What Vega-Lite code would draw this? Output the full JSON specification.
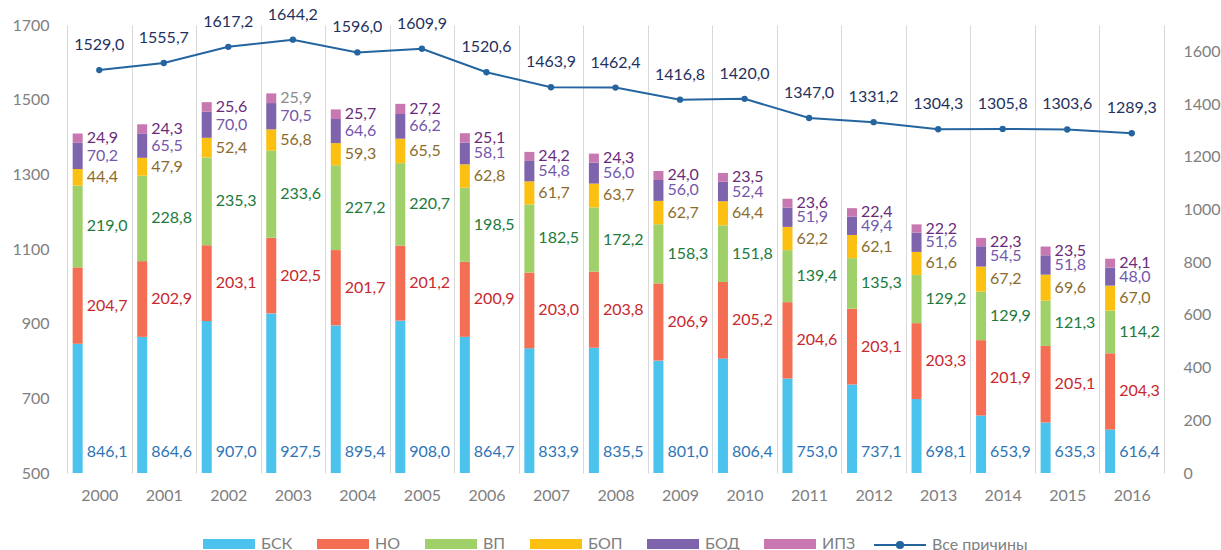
{
  "$schema": "https://vega.github.io/schema/vega-lite/v6.json",
  "width": 1097,
  "height": 448,
  "autosize": {"type": "none"},
  "padding": {"left": 67, "top": 25, "right": 57, "bottom": 77},
  "config": {
    "view": {"stroke": null},
    "font": "Lato",
    "locale": {"number": {"decimal": ",", "thousands": "\u00a0", "grouping": [3], "currency": ["", ""]}},
    "axis": {"labelFont": "Lato", "labelFontSize": 16, "labelColor": "#808080", "ticks": false, "domain": false, "title": null},
    "legend": {"labelFont": "Lato", "labelFontSize": 16, "labelColor": "#808080"}
  },
  "datasets": {
    "bars": [
      {"year": "2000", "cause": "БСК", "value": 846.1}, {"year": "2000", "cause": "НО", "value": 204.7}, {"year": "2000", "cause": "ВП", "value": 219.0}, {"year": "2000", "cause": "БОП", "value": 44.4}, {"year": "2000", "cause": "БОД", "value": 70.2}, {"year": "2000", "cause": "ИПЗ", "value": 24.9},
      {"year": "2001", "cause": "БСК", "value": 864.6}, {"year": "2001", "cause": "НО", "value": 202.9}, {"year": "2001", "cause": "ВП", "value": 228.8}, {"year": "2001", "cause": "БОП", "value": 47.9}, {"year": "2001", "cause": "БОД", "value": 65.5}, {"year": "2001", "cause": "ИПЗ", "value": 24.3},
      {"year": "2002", "cause": "БСК", "value": 907.0}, {"year": "2002", "cause": "НО", "value": 203.1}, {"year": "2002", "cause": "ВП", "value": 235.3}, {"year": "2002", "cause": "БОП", "value": 52.4}, {"year": "2002", "cause": "БОД", "value": 70.0}, {"year": "2002", "cause": "ИПЗ", "value": 25.6},
      {"year": "2003", "cause": "БСК", "value": 927.5}, {"year": "2003", "cause": "НО", "value": 202.5}, {"year": "2003", "cause": "ВП", "value": 233.6}, {"year": "2003", "cause": "БОП", "value": 56.8}, {"year": "2003", "cause": "БОД", "value": 70.5}, {"year": "2003", "cause": "ИПЗ", "value": 25.9},
      {"year": "2004", "cause": "БСК", "value": 895.4}, {"year": "2004", "cause": "НО", "value": 201.7}, {"year": "2004", "cause": "ВП", "value": 227.2}, {"year": "2004", "cause": "БОП", "value": 59.3}, {"year": "2004", "cause": "БОД", "value": 64.6}, {"year": "2004", "cause": "ИПЗ", "value": 25.7},
      {"year": "2005", "cause": "БСК", "value": 908.0}, {"year": "2005", "cause": "НО", "value": 201.2}, {"year": "2005", "cause": "ВП", "value": 220.7}, {"year": "2005", "cause": "БОП", "value": 65.5}, {"year": "2005", "cause": "БОД", "value": 66.2}, {"year": "2005", "cause": "ИПЗ", "value": 27.2},
      {"year": "2006", "cause": "БСК", "value": 864.7}, {"year": "2006", "cause": "НО", "value": 200.9}, {"year": "2006", "cause": "ВП", "value": 198.5}, {"year": "2006", "cause": "БОП", "value": 62.8}, {"year": "2006", "cause": "БОД", "value": 58.1}, {"year": "2006", "cause": "ИПЗ", "value": 25.1},
      {"year": "2007", "cause": "БСК", "value": 833.9}, {"year": "2007", "cause": "НО", "value": 203.0}, {"year": "2007", "cause": "ВП", "value": 182.5}, {"year": "2007", "cause": "БОП", "value": 61.7}, {"year": "2007", "cause": "БОД", "value": 54.8}, {"year": "2007", "cause": "ИПЗ", "value": 24.2},
      {"year": "2008", "cause": "БСК", "value": 835.5}, {"year": "2008", "cause": "НО", "value": 203.8}, {"year": "2008", "cause": "ВП", "value": 172.2}, {"year": "2008", "cause": "БОП", "value": 63.7}, {"year": "2008", "cause": "БОД", "value": 56.0}, {"year": "2008", "cause": "ИПЗ", "value": 24.3},
      {"year": "2009", "cause": "БСК", "value": 801.0}, {"year": "2009", "cause": "НО", "value": 206.9}, {"year": "2009", "cause": "ВП", "value": 158.3}, {"year": "2009", "cause": "БОП", "value": 62.7}, {"year": "2009", "cause": "БОД", "value": 56.0}, {"year": "2009", "cause": "ИПЗ", "value": 24.0},
      {"year": "2010", "cause": "БСК", "value": 806.4}, {"year": "2010", "cause": "НО", "value": 205.2}, {"year": "2010", "cause": "ВП", "value": 151.8}, {"year": "2010", "cause": "БОП", "value": 64.4}, {"year": "2010", "cause": "БОД", "value": 52.4}, {"year": "2010", "cause": "ИПЗ", "value": 23.5},
      {"year": "2011", "cause": "БСК", "value": 753.0}, {"year": "2011", "cause": "НО", "value": 204.6}, {"year": "2011", "cause": "ВП", "value": 139.4}, {"year": "2011", "cause": "БОП", "value": 62.2}, {"year": "2011", "cause": "БОД", "value": 51.9}, {"year": "2011", "cause": "ИПЗ", "value": 23.6},
      {"year": "2012", "cause": "БСК", "value": 737.1}, {"year": "2012", "cause": "НО", "value": 203.1}, {"year": "2012", "cause": "ВП", "value": 135.3}, {"year": "2012", "cause": "БОП", "value": 62.1}, {"year": "2012", "cause": "БОД", "value": 49.4}, {"year": "2012", "cause": "ИПЗ", "value": 22.4},
      {"year": "2013", "cause": "БСК", "value": 698.1}, {"year": "2013", "cause": "НО", "value": 203.3}, {"year": "2013", "cause": "ВП", "value": 129.2}, {"year": "2013", "cause": "БОП", "value": 61.6}, {"year": "2013", "cause": "БОД", "value": 51.6}, {"year": "2013", "cause": "ИПЗ", "value": 22.2},
      {"year": "2014", "cause": "БСК", "value": 653.9}, {"year": "2014", "cause": "НО", "value": 201.9}, {"year": "2014", "cause": "ВП", "value": 129.9}, {"year": "2014", "cause": "БОП", "value": 67.2}, {"year": "2014", "cause": "БОД", "value": 54.5}, {"year": "2014", "cause": "ИПЗ", "value": 22.3},
      {"year": "2015", "cause": "БСК", "value": 635.3}, {"year": "2015", "cause": "НО", "value": 205.1}, {"year": "2015", "cause": "ВП", "value": 121.3}, {"year": "2015", "cause": "БОП", "value": 69.6}, {"year": "2015", "cause": "БОД", "value": 51.8}, {"year": "2015", "cause": "ИПЗ", "value": 23.5},
      {"year": "2016", "cause": "БСК", "value": 616.4}, {"year": "2016", "cause": "НО", "value": 204.3}, {"year": "2016", "cause": "ВП", "value": 114.2}, {"year": "2016", "cause": "БОП", "value": 67.0}, {"year": "2016", "cause": "БОД", "value": 48.0}, {"year": "2016", "cause": "ИПЗ", "value": 24.1}
    ],
    "total": [
      {"year": "2000", "total": 1529.0}, {"year": "2001", "total": 1555.7}, {"year": "2002", "total": 1617.2}, {"year": "2003", "total": 1644.2},
      {"year": "2004", "total": 1596.0}, {"year": "2005", "total": 1609.9}, {"year": "2006", "total": 1520.6}, {"year": "2007", "total": 1463.9},
      {"year": "2008", "total": 1462.4}, {"year": "2009", "total": 1416.8}, {"year": "2010", "total": 1420.0}, {"year": "2011", "total": 1347.0},
      {"year": "2012", "total": 1331.2}, {"year": "2013", "total": 1304.3}, {"year": "2014", "total": 1305.8}, {"year": "2015", "total": 1303.6},
      {"year": "2016", "total": 1289.3}
    ]
  },
  "layer": [
    {
      "data": {"name": "bars"},
      "transform": [
        {"calculate": "indexof(['БСК','НО','ВП','БОП','БОД','ИПЗ'], datum.cause)", "as": "ord"},
        {"stack": "value", "groupby": ["year"], "sort": [{"field": "ord", "order": "ascending"}], "as": ["v0", "v1"]},
        {"calculate": "(datum.v0 + datum.v1) / 2", "as": "mid"}
      ],
      "layer": [
        {
          "mark": {"type": "bar", "clip": true, "width": 10, "xOffset": -21.6},
          "encoding": {
            "x": {"field": "year", "type": "ordinal", "scale": {"paddingInner": 0, "paddingOuter": 0},
                  "axis": {"grid": true, "tickBand": "extent", "gridColor": "#D9D9D9", "gridWidth": 1, "labelAngle": 0, "labelPadding": 14, "title": null}},
            "y": {"field": "v0", "type": "quantitative", "scale": {"domain": [500, 1700]},
                  "axis": {"orient": "left", "values": [500, 700, 900, 1100, 1300, 1500, 1700], "format": "d", "grid": false, "labelPadding": 18, "title": null}},
            "y2": {"field": "v1"},
            "color": {"field": "cause", "type": "nominal",
                      "scale": {"domain": ["БСК", "НО", "ВП", "БОП", "БОД", "ИПЗ"], "range": ["#4CC3EC", "#F46E53", "#A0D06A", "#FCC012", "#7E64AD", "#C878B0"]},
                      "legend": {"orient": "none", "legendX": 136, "legendY": 493, "direction": "horizontal", "title": null,
                                 "symbolType": "M-1,-0.19L1,-0.19L1,0.19L-1,0.19Z", "symbolSize": 2704, "labelOffset": 6, "columnPadding": 24, "symbolStrokeWidth": 0}}
          }
        },
        {
          "transform": [{"filter": "datum.cause != 'БСК'"}],
          "mark": {"type": "text", "align": "left", "baseline": "middle", "xOffset": -12.6, "fontSize": 16, "font": "Lato"},
          "encoding": {
            "x": {"field": "year", "type": "ordinal", "title": null},
            "y": {"field": "mid", "type": "quantitative", "scale": {"domain": [500, 1700]}, "title": null},
            "text": {"field": "value", "type": "quantitative", "format": ".1f"},
            "fill": {
              "condition": {"test": "datum.year == '2003' && datum.cause == 'ИПЗ'", "value": "#8C8C8C"},
              "field": "cause", "type": "nominal",
              "scale": {"domain": ["БСК", "НО", "ВП", "БОП", "БОД", "ИПЗ"], "range": ["#2E75B6", "#C8282E", "#217A3C", "#8B6C2D", "#7558AC", "#6A2C7A"]},
              "legend": null
            }
          }
        },
        {
          "transform": [{"filter": "datum.cause == 'БСК'"}],
          "mark": {"type": "text", "align": "left", "baseline": "middle", "xOffset": -12.6, "yOffset": -21, "fontSize": 16, "font": "Lato", "color": "#2E75B6"},
          "encoding": {
            "x": {"field": "year", "type": "ordinal", "title": null},
            "y": {"datum": 500, "type": "quantitative", "scale": {"domain": [500, 1700]}, "title": null},
            "text": {"field": "value", "type": "quantitative", "format": ".1f"}
          }
        }
      ]
    },
    {
      "data": {"name": "total"},
      "layer": [
        {
          "mark": {"type": "line", "strokeWidth": 2},
          "encoding": {
            "x": {"field": "year", "type": "ordinal", "title": null},
            "y": {"field": "total", "type": "quantitative", "scale": {"domain": [0, 1700]},
                  "axis": {"orient": "right", "values": [0, 200, 400, 600, 800, 1000, 1200, 1400, 1600], "format": "d", "grid": false, "labelPadding": 19, "title": null}},
            "stroke": {"datum": "Все причины", "type": "nominal", "scale": {"range": ["#2465A0"]},
                       "legend": {"orient": "none", "legendX": 806, "legendY": 493, "direction": "horizontal", "title": null,
                                  "symbolType": "M-1,0L1,0M-0.12,0A0.12,0.12 0 1,1 0.12,0A0.12,0.12 0 1,1 -0.12,0Z",
                                  "symbolSize": 2704, "labelOffset": 5, "symbolStrokeWidth": 2, "symbolFillColor": "#2465A0", "symbolStrokeColor": "#2465A0",
                                  "encode": {"symbols": {"update": {"fill": {"value": "#2465A0"}, "stroke": {"value": "#2465A0"}, "strokeWidth": {"value": 2}}}}}}
          }
        },
        {
          "mark": {"type": "point", "filled": true, "size": 40, "color": "#2465A0", "opacity": 1},
          "encoding": {
            "x": {"field": "year", "type": "ordinal", "title": null},
            "y": {"field": "total", "type": "quantitative", "scale": {"domain": [0, 1700]}, "title": null}
          }
        },
        {
          "mark": {"type": "text", "align": "center", "baseline": "middle", "yOffset": -25, "fontSize": 16, "font": "Lato", "color": "#1F3160"},
          "encoding": {
            "x": {"field": "year", "type": "ordinal", "title": null},
            "y": {"field": "total", "type": "quantitative", "scale": {"domain": [0, 1700]}, "title": null},
            "text": {"field": "total", "type": "quantitative", "format": ".1f"}
          }
        }
      ]
    }
  ],
  "resolve": {"scale": {"y": "independent"}}
}
